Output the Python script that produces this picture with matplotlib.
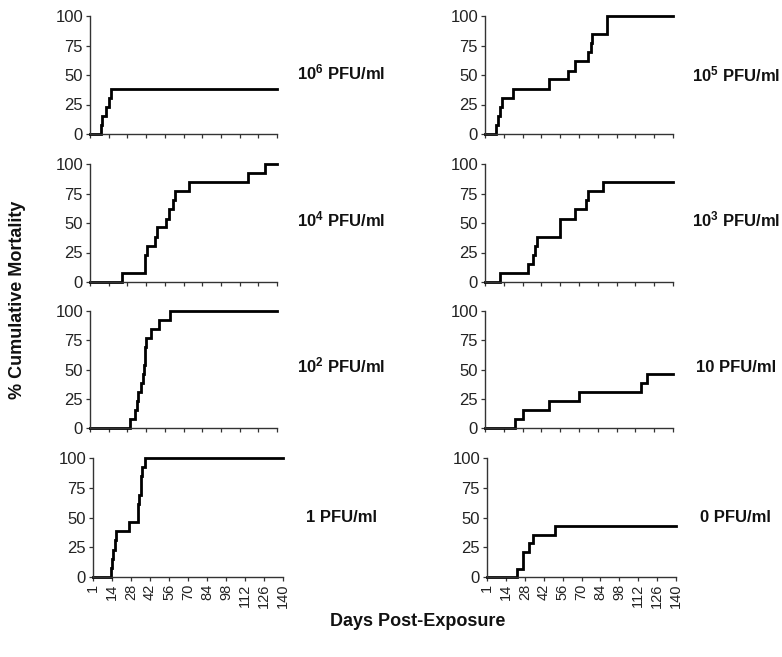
import matplotlib
matplotlib.use("Agg")
import matplotlib.pyplot as plt

plt.rcParams['font.family'] = ['Liberation Sans', 'DejaVu Sans']
plt.rcParams['mathtext.fontset'] = 'custom'
plt.rcParams['mathtext.rm'] = 'Liberation Sans'
plt.rcParams['mathtext.bf'] = 'Liberation Sans:bold'

# Tick labels (days post-exposure)
day_ticks = [0, 14, 28, 42, 56, 70, 84, 98, 112, 126, 140]
day_labels = ['1', '14', '28', '42', '56', '70', '84', '98', '112', '126', '140']
y_ticks = [0, 25, 50, 75, 100]

# Step data: day of change and cumulative mortality (%) after that day
d_1e6 = [0, 8, 9, 12, 14, 16, 140]
m_1e6 = [0, 7.7, 15.4, 23.1, 30.8, 38.5, 38.5]

d_1e5 = [0, 8, 10, 11, 13, 21, 48, 62, 67, 77, 79, 80, 91, 140]
m_1e5 = [0, 7.7, 15.4, 23.1, 30.8, 38.5, 46.2, 53.8, 61.5, 69.2, 76.9, 84.6, 100, 100]

d_1e4 = [0, 24, 41, 41.5, 42.5, 49, 50.5, 57, 59, 62.5, 64, 74, 118, 131, 140]
m_1e4 = [0, 7.7, 15.4, 23.1, 30.8, 38.5, 46.2, 53.8, 61.5, 69.2, 76.9, 84.6, 92.3, 100, 100]

d_1e3 = [0, 11, 32, 36, 37, 39, 56, 67, 75, 77, 87.5, 140]
m_1e3 = [0, 7.7, 15.4, 23.1, 30.8, 38.5, 53.8, 61.5, 69.2, 76.9, 84.6, 84.6]

d_1e2 = [0, 30, 34, 35, 36, 38, 40, 40.5, 41, 41.5, 42, 46, 52, 60, 140]
m_1e2 = [0, 7.7, 15.4, 23.1, 30.8, 38.5, 46.2, 53.8, 61.5, 69.2, 76.9, 84.6, 92.3, 100, 100]

d_1e1 = [0, 22, 28, 48, 70, 116, 121, 140]
m_1e1 = [0, 7.7, 15.4, 23.1, 30.8, 38.5, 46.2, 46.2]

d_1e0 = [0, 13.5, 14, 15, 16, 17, 26.5, 33, 33.5, 34, 35, 35.5, 36, 38, 140]
m_1e0 = [0, 7.7, 15.4, 23.1, 30.8, 38.5, 46.2, 53.8, 61.5, 69.2, 76.9, 84.6, 92.3, 100, 100]

d_ctrl = [0, 22, 27, 31, 34, 50, 140]
m_ctrl = [0, 7.1, 21.4, 28.6, 35.7, 42.9, 42.9]

panel_labels = [r'$\mathbf{10^{6}}$ PFU/ml', r'$\mathbf{10^{5}}$ PFU/ml',
                r'$\mathbf{10^{4}}$ PFU/ml', r'$\mathbf{10^{3}}$ PFU/ml',
                r'$\mathbf{10^{2}}$ PFU/ml', '10 PFU/ml', '1 PFU/ml', '0 PFU/ml']
panel_days = [d_1e6, d_1e5, d_1e4, d_1e3, d_1e2, d_1e1, d_1e0, d_ctrl]
panel_mort = [m_1e6, m_1e5, m_1e4, m_1e3, m_1e2, m_1e1, m_1e0, m_ctrl]

W, H = 782, 657
fig = plt.figure(figsize=(W / 100, H / 100), dpi=100)
fig.patch.set_facecolor('white')

# pixel boxes: (x0, x1, ytop, ybottom)
boxes = [
    (90, 277, 16, 134), (485, 673, 16, 134),
    (90, 277, 164, 282), (485, 673, 164, 282),
    (90, 277, 311, 428), (485, 673, 311, 428),
    (93, 283, 458, 577), (487, 676, 458, 577),
]
# (x, y, horizontal alignment)
label_pos = [(341, 72, 'center'), (780, 74, 'right'), (341, 219, 'center'),
             (780, 219, 'right'), (341, 365, 'center'), (736, 367, 'center'),
             (342, 517, 'center'), (735, 518, 'center')]

for i, (x0, x1, yt, yb) in enumerate(boxes):
    ax = fig.add_axes([x0 / W, (H - yb) / H, (x1 - x0) / W, (yb - yt) / H])
    ax.plot(panel_days[i], panel_mort[i], drawstyle='steps-post', color='black',
            lw=2.0, clip_on=False, solid_joinstyle='miter')
    ax.set_xlim(0, 140)
    ax.set_ylim(0, 100)
    for s in ['top', 'right']:
        ax.spines[s].set_visible(False)
    for s in ['left', 'bottom']:
        ax.spines[s].set_linewidth(1.0)
        ax.spines[s].set_color('#333333')
    ax.set_yticks(y_ticks)
    ax.set_xticks(day_ticks)
    ax.tick_params(axis='both', direction='out', length=3, width=0.9,
                   colors='#333333', labelcolor='#222222', pad=2)
    ax.tick_params(axis='y', labelsize=12)
    ax.tick_params(axis='x', labelsize=10.5)
    if i >= 6:
        ax.set_xticklabels(day_labels, rotation=90)
    else:
        ax.set_xticklabels([])
    ax.patch.set_alpha(0)
    cx, cy, ha = label_pos[i]
    fig.text(cx / W, 1 - cy / H, panel_labels[i], ha=ha, va='center',
             fontsize=12, fontweight='bold', color='#111111')

fig.text(18 / W, 1 - 300 / H, '% Cumulative Mortality', rotation=90,
         ha='center', va='center', fontsize=13, fontweight='bold', color='#111111')
fig.text(418 / W, 1 - 622 / H, 'Days Post-Exposure', ha='center', va='center',
         fontsize=13, fontweight='bold', color='#111111')

fig.savefig('out.png', dpi=100, facecolor='white')
